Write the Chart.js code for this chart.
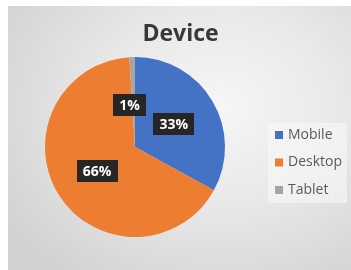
<!DOCTYPE html>
<html>
<head>
<meta charset="utf-8">
<script src="https://cdn.jsdelivr.net/npm/chart.js@4.4.1/dist/chart.umd.min.js"></script>
<style>
    html, body {
        margin: 0;
        padding: 0;
        background: #ffffff;
        width: 351px;
        height: 270px;
        overflow: hidden;
    }
    #wrap {
        position: absolute;
        left: 8px;
        top: 6px;
        width: 343px;
        height: 264px;
        background: radial-gradient(ellipse 75% 80% at 62% 38%, #f6f6f6 0%, #e9e9e9 45%, #d2d2d2 100%);
    }
</style>
</head>
<body>
<div id="wrap"><canvas id="device-chart" width="343" height="264"></canvas></div>
<script>
const chartTitle = "Device"
const devices = ["Mobile", "Desktop", "Tablet"]
const shares = [33, 66, 1]
const shareLabels = ["33%", "66%", "1%"]
const colors = ["#4472C4", "#ED7D31", "#A5A5A5"]

// title centred over the whole panel, not just the pie
const panelTitle = {
    id: "panelTitle",
    afterDraw(chart) {
        const ctx = chart.ctx
        ctx.save()
        ctx.font = "bold 23px 'Open Sans'"
        ctx.fillStyle = "#383838"
        ctx.textAlign = "center"
        ctx.textBaseline = "middle"
        ctx.fillText(chartTitle, chart.width / 2 + 1, 28)
        ctx.restore()
    }
}

// dark boxes with the percentage, placed on each slice
const sliceLabels = {
    id: "sliceLabels",
    afterDatasetsDraw(chart) {
        const ctx = chart.ctx
        const arcs = chart.getDatasetMeta(0).data
        ctx.save()
        ctx.font = "bold 14px 'Open Sans'"
        ctx.textAlign = "center"
        ctx.textBaseline = "middle"
        arcs.forEach((arc, i) => {
            let pos = arc.tooltipPosition()
            let x = pos.x
            let y = pos.y
            if (shares[i] < 5) {
                x -= 4
                y += 3
            }
            const w = ctx.measureText(shareLabels[i]).width + 12
            const h = 22
            ctx.fillStyle = "#262626"
            ctx.fillRect(Math.round(x - w / 2), Math.round(y - h / 2), Math.round(w), h)
            ctx.fillStyle = "#ffffff"
            ctx.fillText(shareLabels[i], x, y + 1)
        })
        ctx.restore()
    }
}

// legend on the right, in a slightly lighter box
const sideLegend = {
    id: "sideLegend",
    afterDraw(chart) {
        const ctx = chart.ctx
        const ds = chart.data.datasets[0]
        ctx.save()
        ctx.fillStyle = "rgba(250, 250, 250, 0.55)"
        ctx.fillRect(260, 117, 79, 80)
        ctx.font = "14px 'Open Sans'"
        ctx.textBaseline = "middle"
        chart.data.labels.forEach((label, i) => {
            const y = 129 + i * 27.5
            ctx.fillStyle = ds.backgroundColor[i]
            ctx.fillRect(267, y - 4, 8, 8)
            ctx.fillStyle = "#595959"
            ctx.fillText(label, 280, y)
        })
        ctx.restore()
    }
}

new Chart(document.getElementById("device-chart"), {
    type: "pie",
    data: {
        labels: devices,
        datasets: [{
            data: shares,
            backgroundColor: colors,
            borderWidth: 0,
        }]
    },
    options: {
        responsive: false,
        animation: false,
        layout: {
            padding: { left: 37, right: 126, top: 51, bottom: 33 }
        },
        plugins: {
            legend: { display: false },
            tooltip: { enabled: false },
            title: { display: false },
        },
    },
    plugins: [sliceLabels, sideLegend, panelTitle],
})
</script>
</body>
</html>
